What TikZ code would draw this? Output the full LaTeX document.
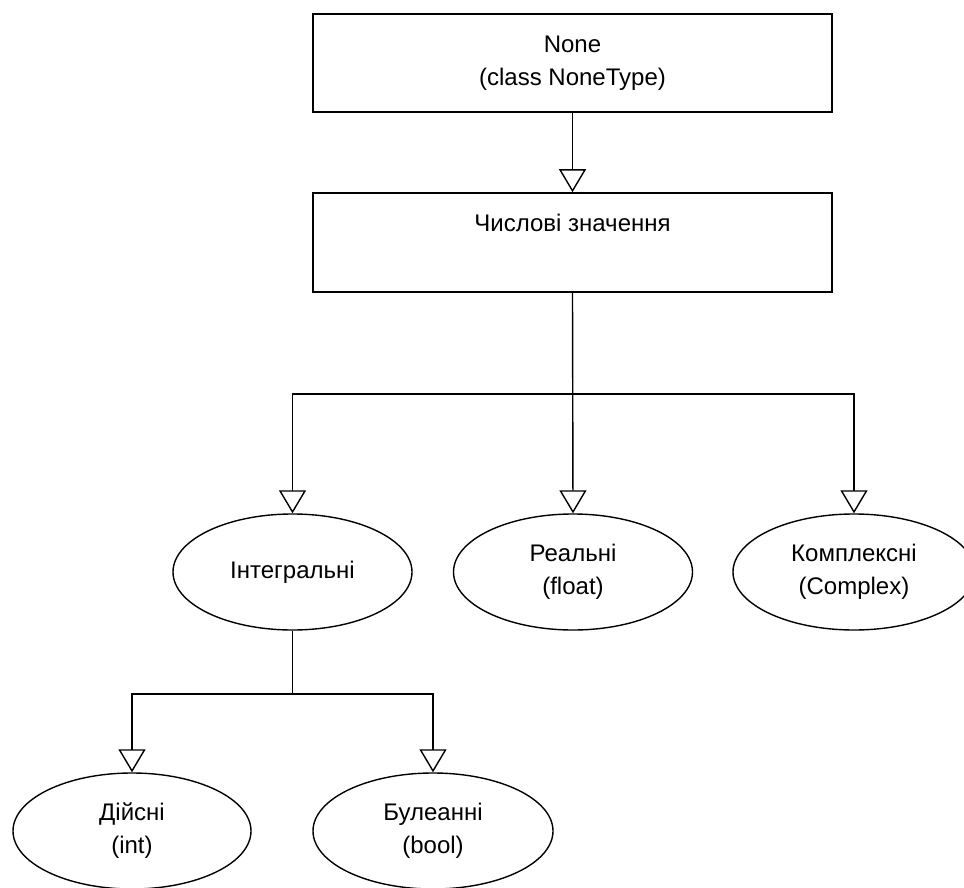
\documentclass[tikz,border=0pt]{standalone}
\usepackage{fontspec}
\setmainfont{Liberation Sans}
\usetikzlibrary{arrows.meta,shapes.geometric}
\begin{document}
\begin{tikzpicture}[x=1pt,y=-1pt,
  font=\fontsize{24}{33}\selectfont,
  every node/.style={align=center},
  boxnode/.style={draw=black, line width=1.6pt, rectangle, minimum width=519pt, inner sep=0pt},
  ellnode/.style={draw=black, line width=1.4pt, ellipse, minimum width=239pt, minimum height=116pt, inner sep=0pt},
  conn/.style={draw=black, line width=1.4pt},
  arr/.style={conn, -{Triangle[open, width=27pt, length=23pt, line width=1.4pt]}}
]
\useasboundingbox (0,0) rectangle (964,888);
\node[boxnode, minimum height=98pt] (b1) at (572.5,63) {None\\(class NoneType)};
\node[boxnode, minimum height=99pt] (b2) at (572.5,242.5) {};
\node (b2t) at (572.5,223) {Числові значення};
\node[ellnode] (e1) at (292.5,572) {Інтегральні};
\node[ellnode] (e2) at (573,572) {Реальні\\(float)};
\node[ellnode, minimum width=242pt] (e3) at (854,572) {Комплексні\\(Complex)};
\node[ellnode, minimum width=238pt] (e4) at (132,831) {Дійсні\\(int)};
\node[ellnode, minimum width=240pt] (e5) at (433,831) {Булеанні\\(bool)};
\coordinate (j1) at (572.5,394);
\coordinate (j2) at (292.5,694);
\draw[arr] (b1.south) -- (b2.north);
\draw[arr] (b2.south) -- (e2.north);
\draw[arr] (j1) -| (e1.north);
\draw[arr] (j1) -| (e3.north);
\draw[conn] (e1.south) -- (j2);
\draw[arr] (j2) -| (e4.north);
\draw[arr] (j2) -| (e5.north);
\end{tikzpicture}
\end{document}
